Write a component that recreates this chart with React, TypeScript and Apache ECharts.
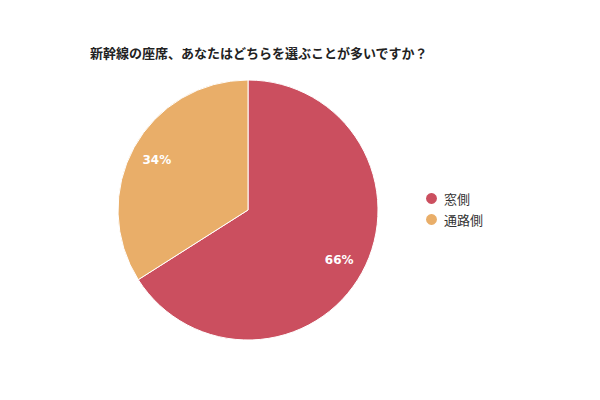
import React, { useEffect, useRef } from "react";
import * as echarts from "echarts";

const titleText = "新幹線の座席、あなたはどちらを選ぶことが多いですか？";
const categories = ["窓側", "通路側"];
const values = [66, 34];
const colors = ["#CB4F5F", "#E9AE69"];

export default function App() {
  const ref = useRef<HTMLDivElement>(null);
  useEffect(() => {
    if (!ref.current) return;
    const chart = echarts.init(ref.current, undefined, { renderer: "svg" });
    const data = categories.map((name, i) => ({ name, value: values[i] }));
    chart.setOption({
      animation: false,
      color: colors,
      title: {
        text: titleText,
        left: 77,
        top: 33,
        textStyle: { fontSize: 13, fontWeight: "bold", color: "#222", fontFamily: "Noto Sans CJK JP" },
      },
      legend: {
        orient: "vertical",
        left: 411,
        top: 178,
        icon: "circle",
        itemWidth: 13,
        itemHeight: 13,
        itemGap: 6,
        data: categories,
        textStyle: { fontSize: 13, color: "#333", fontFamily: "Noto Sans CJK JP", padding: [0, 0, 0, 1] },
      },
      series: [
        {
          type: "pie",
          center: [240, 202],
          radius: [0, 130],
          startAngle: 90,
          clockwise: true,
          label: { show: false },
          labelLine: { show: false },
          itemStyle: { borderColor: "#fff", borderWidth: 1 },
          data,
        },
        {
          type: "pie",
          center: [240, 202],
          radius: [72, 130],
          startAngle: 90,
          clockwise: true,
          silent: true,
          legendHoverLink: false,
          itemStyle: { color: "transparent" },
          label: {
            show: true,
            position: "inside",
            formatter: "{c}%",
            color: "#fff",
            fontSize: 12,
            fontWeight: "bold",
            fontFamily: "DejaVu Sans",
          },
          labelLine: { show: false },
          data: categories.map((name, i) => ({ name: name + " ", value: values[i] })),
        },
      ],
    });
    return () => chart.dispose();
  }, []);
  return <div ref={ref} style={{ width: 584, height: 384 }} />;
}
